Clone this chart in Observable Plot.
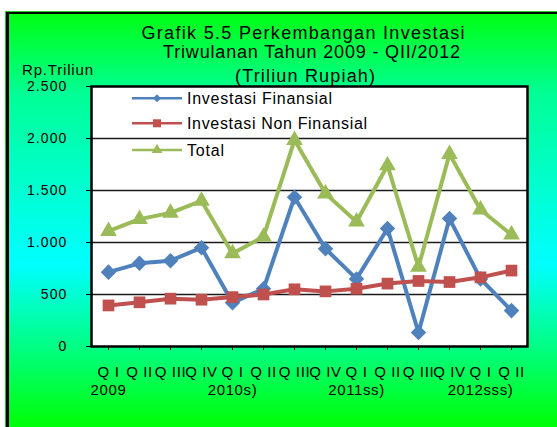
<!DOCTYPE html>
<html>
<head>
<meta charset="utf-8">
<script src="https://cdn.jsdelivr.net/npm/d3@7"></script>
<script src="https://cdn.jsdelivr.net/npm/@observablehq/plot@0.6"></script>
<style>
  html, body { margin: 0; padding: 0; background: #fff; }
  #wrap { position: relative; width: 557px; height: 427px; overflow: hidden; background: #fff;
          font-family: "Liberation Sans", Arial, sans-serif; }
  #bg { position: absolute; left: 6px; top: 12px; width: 620px; height: 460px; box-sizing: border-box;
        border-left: 3px solid #000; border-top: 2px solid #000;
        box-shadow: -1px -1px 0 #22cc22;
        background: linear-gradient(to bottom, rgb(0,255,20) 0px, rgb(0,255,150) 80px, rgb(0,255,255) 250px, rgb(0,255,120) 340px, rgb(0,255,10) 410px); }
  #plot { position: absolute; left: 0; top: 0; }
  #plot svg { overflow: visible; }
  .ax text { letter-spacing: 1.1px; }
  .xl text { letter-spacing: 0.6px; }
  #over { position: absolute; left: 0; top: 0; }
</style>
</head>
<body>
<div id="wrap">
  <div id="bg"></div>
  <div id="plot"></div>
</div>
<script>
// ---- data ----
const quarters = ["Q I","Q II","Q III","Q IV","Q I","Q II","Q III","Q IV","Q I","Q II","Q III","Q IV","Q I","Q II"];
const years    = ["2009","","","","2010s)","","","","2011ss)","","","","2012sss)",""];
const financial    = [715, 800, 825, 950, 420, 555, 1435, 940, 650, 1135, 135, 1230, 650, 345];
const nonFinancial = [395, 425, 460, 450, 475, 500, 550, 530, 555, 605, 630, 620, 665, 730];
const total        = [1110, 1225, 1285, 1400, 895, 1055, 1985, 1470, 1200, 1740, 765, 1850, 1315, 1075];
const yTicks = [0, 500, 1000, 1500, 2000, 2500];
const seriesNames = ["Investasi Finansial", "Investasi Non Finansial", "Total"];
const titleLines = ["Grafik 5.5  Perkembangan Investasi", "Triwulanan Tahun 2009 - QII/2012", "(Triliun Rupiah)"];
const yUnit = "Rp.Triliun";

const colors = ["#4F81BD", "#C0504D", "#9BBB59"];
const symbols = ["diamond2", "square", "triangle"];
const radii = [7, 6.6, 6.2];

const rows = quarters.map((q, i) => ({
  i, q, year: years[i],
  fin: financial[i], non: nonFinancial[i], tot: total[i]
}));
const keys = ["fin", "non", "tot"];
const fmt = d => d3.format(",")(d).replace(/,/g, ".");

const seriesMarks = keys.flatMap((k, s) => [
  Plot.line(rows, {x: "i", y: k, stroke: colors[s], strokeWidth: 4, strokeLinejoin: "miter"}),
  Plot.dot(rows, {x: "i", y: k, fill: colors[s], stroke: null, symbol: symbols[s], r: radii[s]})
]);

const chart = Plot.plot({
  width: 557, height: 427,
  marginLeft: 91, marginRight: 30, marginTop: 86, marginBottom: 81,
  style: {background: "transparent", fontFamily: "Liberation Sans, Arial, sans-serif", color: "#000", overflow: "visible"},
  x: {type: "point", domain: d3.range(quarters.length), padding: 0.5, label: null},
  y: {domain: [0, 2500], label: null},
  marks: [
    Plot.frame({fill: "white", stroke: null}),
    Plot.ruleY(yTicks.filter(d => d > 0 && d < 2500), {stroke: "#1a1a1a", strokeWidth: 1.5}),
    Plot.axisY(yTicks, {tickSize: 5, tickPadding: 19, tickFormat: fmt, fontSize: 14, label: null, className: "ax"}),
    Plot.axisX(d3.range(quarters.length), {tickSize: 4, tickFormat: () => "", label: null}),
    Plot.text(rows, {x: "i", text: "q", frameAnchor: "bottom", dy: 30, fontSize: 15, className: "xl"}),
    Plot.text(rows, {x: "i", text: "year", frameAnchor: "bottom", dy: 48, fontSize: 15, className: "xl"}),
    Plot.frame({stroke: "#000", strokeWidth: 2.5}),
    ...seriesMarks
  ]
});
document.getElementById("plot").appendChild(chart);

// ---- overlay: title, unit label, legend ----
const over = d3.select("#wrap").append("svg").attr("id", "over")
  .attr("width", 557).attr("height", 427)
  .style("font-family", "Liberation Sans, Arial, sans-serif");

const titlePos = [[303, 38.5, 323], [311.5, 57.5, 297], [305, 82.3, 140]];
titleLines.forEach((t, j) => {
  over.append("text").attr("x", titlePos[j][0]).attr("y", titlePos[j][1])
    .attr("text-anchor", "middle").attr("font-size", 18)
    .attr("textLength", titlePos[j][2]).attr("lengthAdjust", "spacing")
    .text(t);
});
over.append("text").attr("x", 22).attr("y", 75.4).attr("font-size", 15)
  .attr("textLength", 71).attr("lengthAdjust", "spacing").text(yUnit);

const legY = [98.3, 123.3, 150];
const legW = [145, 180, 37];
seriesNames.forEach((name, s) => {
  const g = over.append("g").attr("transform", `translate(0,${legY[s]})`);
  g.append("line").attr("x1", 132).attr("x2", 182).attr("y1", 0).attr("y2", 0)
    .attr("stroke", colors[s]).attr("stroke-width", 2.5);
  const sym = [d3.symbolDiamond2, d3.symbolSquare, d3.symbolTriangle][s];
  const size = [40, 64, 50][s];
  g.append("path").attr("transform", "translate(157,0)")
    .attr("d", d3.symbol(sym, size)()).attr("fill", colors[s]);
  g.append("text").attr("x", 187).attr("y", 5.7).attr("font-size", 16)
    .attr("textLength", legW[s]).attr("lengthAdjust", "spacing").text(name);
});
</script>
</body>
</html>
